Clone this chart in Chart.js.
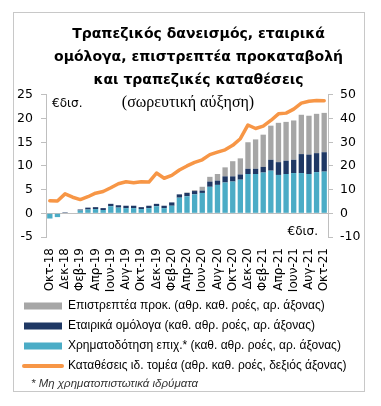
<!DOCTYPE html>
<html>
<head>
<meta charset="utf-8">
<script src="https://cdn.jsdelivr.net/npm/chart.js@4.4.1/dist/chart.umd.min.js"></script>
<style>
  html, body { margin: 0; padding: 0; background: #fff; }
</style>
</head>
<body>
<canvas id="chart" width="381" height="406"></canvas>
<script>
// monthly, Oct-18 .. Oct-21
const months = [
    "Οκτ-18", "Νοε-18", "Δεκ-18", "Ιαν-19", "Φεβ-19", "Μαρ-19", "Απρ-19", "Μαϊ-19", "Ιουν-19", "Ιουλ-19",
    "Αυγ-19", "Σεπ-19", "Οκτ-19", "Νοε-19", "Δεκ-19", "Ιαν-20", "Φεβ-20", "Μαρ-20", "Απρ-20", "Μαϊ-20",
    "Ιουν-20", "Ιουλ-20", "Αυγ-20", "Σεπ-20", "Οκτ-20", "Νοε-20", "Δεκ-20", "Ιαν-21", "Φεβ-21", "Μαρ-21",
    "Απρ-21", "Μαϊ-21", "Ιουν-21", "Ιουλ-21", "Αυγ-21", "Σεπ-21", "Οκτ-21"
];

// € bn, left axis (stacked)
const loans = [-1.1, -0.8, 0.0, 0.0, 0.6, 0.8, 0.9, 0.7, 1.5, 1.2, 1.1, 1.1, 0.9, 1.1, 1.5, 1.1, 1.6, 3.3, 3.6, 4.0,
    4.3, 5.6, 6.0, 6.5, 6.7, 7.1, 8.3, 8.3, 8.6, 9.0, 8.1, 8.3, 8.5, 8.5, 8.3, 8.7, 8.8];
const bonds = [0.0, 0.0, 0.2, 0.1, 0.2, 0.4, 0.4, 0.4, 0.5, 0.5, 0.5, 0.5, 0.4, 0.5, 0.5, 0.5, 0.7, 0.7, 0.7, 0.7,
    0.5, 1.1, 0.9, 1.3, 1.1, 1.1, 1.1, 1.1, 1.2, 2.3, 2.7, 2.8, 2.8, 4.0, 4.1, 4.0, 4.1];
const advances = [0, 0, 0, 0, 0, 0, 0, 0, 0, 0, 0, 0, 0, 0, 0, 0, 0, 0.0, 0.1, 0.2,
    0.8, 1.0, 1.4, 1.9, 3.2, 3.4, 5.6, 6.2, 6.8, 7.2, 8.3, 8.2, 8.3, 8.3, 8.2, 8.3, 8.3];

// € bn, right axis
const deposits = [5.3, 5.2, 8.2, 6.8, 5.8, 7.0, 8.5, 9.2, 10.8, 12.5, 13.3, 12.9, 13.3, 13.2, 17.0, 14.8, 16.0, 18.3, 20.0, 21.5,
    22.6, 24.8, 25.8, 26.8, 28.7, 31.5, 37.3, 35.8, 36.8, 39.2, 42.0, 42.3, 44.0, 46.5, 47.3, 47.6, 47.5];

const leftTicks = [-5, 0, 5, 10, 15, 20, 25];
const rightTicks = [-10, 0, 10, 20, 30, 40, 50];

const titleLines = ["Τραπεζικός δανεισμός, εταιρικά", "ομόλογα, επιστρεπτέα προκαταβολή", "και τραπεζικές καταθέσεις"];
const subTitle = "(σωρευτική αύξηση)";
const unitLabel = "€δισ.";
const footnote = "* Μη χρηματοπιστωτικά ιδρύματα";

// legend shows advances, bonds, loans, deposits
const legendOrder = [2, 1, 0, 3];

// frame + the loose texts that sit inside the plot
const extraText = {
    id: "extraText",
    beforeDraw(chart) {
        const ctx = chart.ctx;
        ctx.save();
        ctx.fillStyle = "#fff";
        ctx.fillRect(0, 0, chart.width, chart.height);
        ctx.strokeStyle = "#c8c8c8";
        ctx.lineWidth = 1;
        ctx.strokeRect(13.5, 12.5, 351, 379);
        ctx.restore();
    },
    afterDraw(chart) {
        const ctx = chart.ctx;
        const area = chart.chartArea;
        ctx.save();
        ctx.fillStyle = "#000";
        ctx.textBaseline = "middle";
        ctx.font = '12px "DejaVu Sans"';
        ctx.textAlign = "left";
        ctx.fillText(unitLabel, area.left + 6, area.top + 9);
        ctx.textAlign = "right";
        ctx.fillText(unitLabel, area.right - 10, area.bottom - 5);
        ctx.font = '16px "Liberation Serif"';
        ctx.textAlign = "center";
        ctx.fillText(subTitle, 188, area.top + 8);
        ctx.font = 'italic 11.5px "Liberation Sans"';
        ctx.fillStyle = "#333";
        ctx.textAlign = "left";
        ctx.fillText(footnote, 31, 384);
        ctx.restore();
    }
};

const ctx = document.getElementById("chart").getContext("2d");

new Chart(ctx, {
    type: "bar",
    data: {
        labels: months,
        datasets: [
            { label: "Χρηματοδότηση επιχ.* (καθ. αθρ. ροές, αρ. άξονας)", data: loans, backgroundColor: "#4bacc6", yAxisID: "y", barPercentage: 0.7, categoryPercentage: 1 },
            { label: "Εταιρικά ομόλογα (καθ. αθρ. ροές, αρ. άξονας)", data: bonds, backgroundColor: "#1f3864", yAxisID: "y", barPercentage: 0.7, categoryPercentage: 1 },
            { label: "Επιστρεπτέα προκ. (αθρ. καθ. ροές, αρ. άξονας)", data: advances, backgroundColor: "#a6a6a6", yAxisID: "y", barPercentage: 0.7, categoryPercentage: 1 },
            { type: "line", label: "Καταθέσεις ιδ. τομέα (αθρ. καθ. ροές, δεξιός άξονας)", data: deposits, borderColor: "#f79646",
              backgroundColor: "#f79646", borderWidth: 3.5, pointRadius: 0, tension: 0, yAxisID: "y1", order: -1,
              borderJoinStyle: "round", borderCapStyle: "round" }
        ]
    },
    options: {
        responsive: false,
        animation: false,
        devicePixelRatio: 1,
        layout: { padding: { left: 16, right: 0, top: 0, bottom: 24 } },
        plugins: {
            title: {
                display: true,
                text: titleLines,
                color: "#000",
                font: { family: "DejaVu Sans", size: 14, weight: "bold", lineHeight: 1.64 },
                padding: { top: 23, bottom: 3 }
            },
            legend: {
                position: "bottom",
                align: "start",
                labels: {
                    color: "#000",
                    font: { family: "Liberation Sans", size: 12 },
                    usePointStyle: true,
                    pointStyleWidth: 38,
                    boxHeight: 7,
                    padding: 8,
                    generateLabels: chart => legendOrder.map(i => {
                        const ds = chart.data.datasets[i];
                        const isLine = ds.type === "line";
                        return {
                            text: ds.label,
                            datasetIndex: i,
                            fillStyle: ds.backgroundColor,
                            strokeStyle: isLine ? ds.borderColor : ds.backgroundColor,
                            lineWidth: isLine ? 4 : 0,
                            lineCap: "round",
                            pointStyle: isLine ? "line" : "rect",
                            fontColor: "#000",
                            hidden: false
                        };
                    })
                }
            },
            tooltip: { enabled: false }
        },
        scales: {
            x: {
                stacked: true,
                grid: { display: false, drawTicks: false },
                border: { display: false },
                afterFit: s => { s.height = 55; },
                ticks: {
                    autoSkip: false,
                    maxRotation: 90,
                    minRotation: 90,
                    padding: 11,
                    color: "#000",
                    font: { family: "DejaVu Sans", size: 12 },
                    callback: (value, index) => index % 2 === 0 ? months[index] : ""
                }
            },
            y: {
                position: "left",
                stacked: true,
                min: leftTicks[0],
                max: leftTicks[leftTicks.length - 1],
                afterBuildTicks: s => { s.ticks = leftTicks.map(v => ({ value: v })); },
                afterFit: s => { s.width = 30; },
                ticks: { color: "#000", padding: 8, font: { family: "DejaVu Sans", size: 12.5 } },
                grid: {
                    color: c => (c.tick && c.tick.value === 0) ? "#bfbfbf" : "rgba(0,0,0,0)",
                    tickColor: "#bfbfbf",
                    tickLength: 5
                },
                border: { color: "#bfbfbf" }
            },
            y1: {
                position: "right",
                min: rightTicks[0],
                max: rightTicks[rightTicks.length - 1],
                afterBuildTicks: s => { s.ticks = rightTicks.map(v => ({ value: v })); },
                afterFit: s => { s.width = 53; },
                ticks: { color: "#000", padding: 7, font: { family: "DejaVu Sans", size: 12.5 } },
                grid: { drawOnChartArea: false, tickColor: "#bfbfbf", tickLength: 5 },
                border: { color: "#bfbfbf" }
            }
        }
    },
    plugins: [extraText]
});
</script>
</body>
</html>
